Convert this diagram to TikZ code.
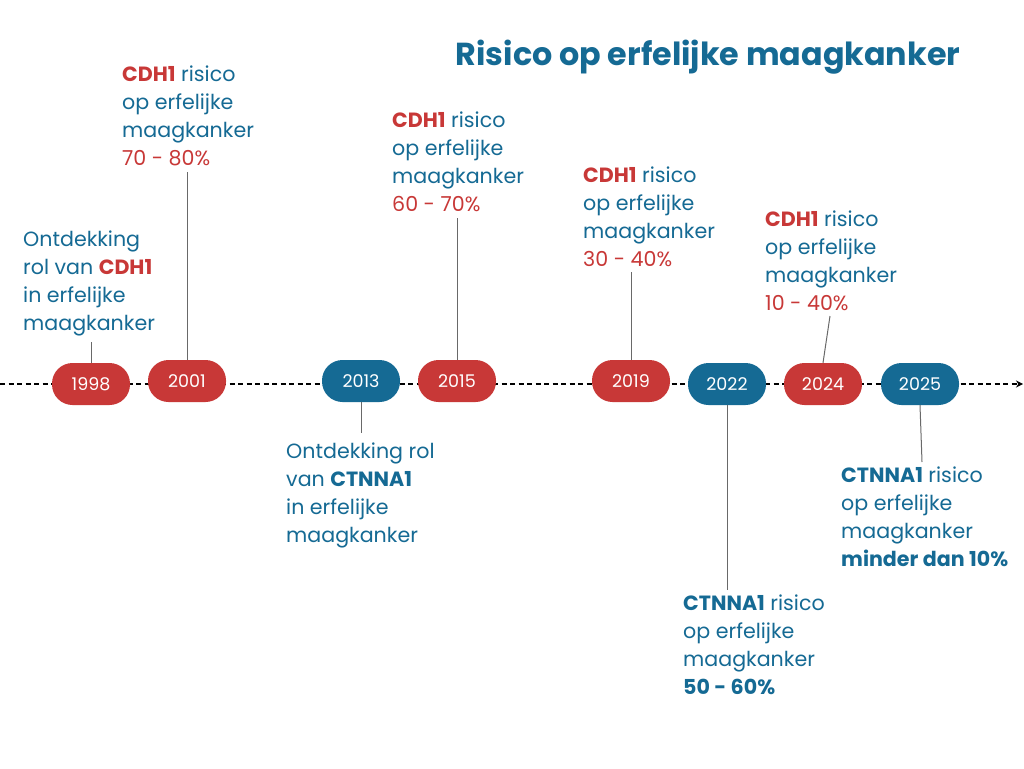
\documentclass[tikz,border=0pt]{standalone}
\usepackage{fontspec}
\setmainfont{Poppins}
\usetikzlibrary{arrows.meta}
\definecolor{cred}{RGB}{200,56,55}
\definecolor{cblue}{RGB}{21,106,148}
\definecolor{cgray}{RGB}{105,105,105}
\newcommand{\st}{\rule{0pt}{16pt}}
\newcommand{\rb}[1]{\textcolor{cred}{\bfseries #1}}
\newcommand{\rr}[1]{\textcolor{cred}{#1}}
\newcommand{\bb}[1]{{\bfseries #1}}
\tikzset{
  pillred/.style={fill=cred, rounded corners=20.5pt, minimum width=78pt, minimum height=42pt, inner sep=0pt, text=white, font=\fontsize{17.5}{20}\selectfont},
  pillblue/.style={pillred, fill=cblue},
  info/.style={anchor=north west, inner sep=0pt, align=left, text=cblue, font=\fontsize{20.6}{28}\selectfont},
  link/.style={draw=cgray, line width=1pt},
  axis/.style={draw=black, line width=1.5pt, dash pattern=on 5pt off 3.5pt, -{Stealth[length=7pt,width=7pt]}}
}
\begin{document}
\begin{tikzpicture}[x=1pt,y=-1pt]
\useasboundingbox (0,0) rectangle (1024,768);
\fill[white] (0,0) rectangle (1024,768);
% title
\node[anchor=base, text=cblue, font=\fontsize{31.8}{36}\selectfont\bfseries, inner sep=0pt] (title) at (708,65) {Risico op erfelijke maagkanker};
% axis
\coordinate (axstart) at (0,384);
\coordinate (axend) at (1023,384);
\draw[axis] (axstart) -- (axend);
% pills
\node[pillred]  (p1998) at (91,384) {1998};
\node[pillred]  (p2001) at (187,381) {2001};
\node[pillblue] (p2013) at (361,381) {2013};
\node[pillred]  (p2015) at (457,381) {2015};
\node[pillred]  (p2019) at (631,381) {2019};
\node[pillblue] (p2022) at (727,384) {2022};
\node[pillred]  (p2024) at (823,384) {2024};
\node[pillblue] (p2025) at (920,384) {2025};
% texts
\node[info] (t1998) at (23,230) {\st Ontdekking\\rol van \rb{CDH1}\\in erfelijke\\maagkanker};
\node[info] (t2001) at (122,65) {\st\rb{CDH1} risico\\op erfelijke\\maagkanker\\\rr{70 - 80\%}};
\node[info] (t2013) at (286,442) {\st Ontdekking rol\\van \bb{CTNNA1}\\in erfelijke\\maagkanker};
\node[info] (t2015) at (392,111) {\st\rb{CDH1} risico\\op erfelijke\\maagkanker\\\rr{60 - 70\%}};
\node[info] (t2019) at (583,166) {\st\rb{CDH1} risico\\op erfelijke\\maagkanker\\\rr{30 - 40\%}};
\node[info] (t2022) at (683,594) {\st\bb{CTNNA1} risico\\op erfelijke\\maagkanker\\\bb{50 - 60\%}};
\node[info] (t2024) at (765,210) {\st\rb{CDH1} risico\\op erfelijke\\maagkanker\\\rr{10 - 40\%}};
\node[info] (t2025) at (841,466) {\st\bb{CTNNA1} risico\\op erfelijke\\maagkanker\\\bb{minder dan 10\%}};
% connector ends
\coordinate (c1998) at (91,342);
\coordinate (c2001) at (187,172);
\coordinate (c2013) at (361,433);
\coordinate (c2015) at (457,218);
\coordinate (c2019) at (631,272);
\coordinate (c2022) at (727,590);
\coordinate (c2024) at (830,316);
\coordinate (c2025) at (922,462);
\draw[link] (c1998) -- (p1998.north);
\draw[link] (c2001) -- (p2001.north);
\draw[link] (p2013.south) -- (c2013);
\draw[link] (c2015) -- (p2015.north);
\draw[link] (c2019) -- (p2019.north);
\draw[link] (p2022.south) -- (c2022);
\draw[link] (c2024) -- (p2024.north);
\draw[link] (p2025.south) -- (c2025);
\end{tikzpicture}
\end{document}
